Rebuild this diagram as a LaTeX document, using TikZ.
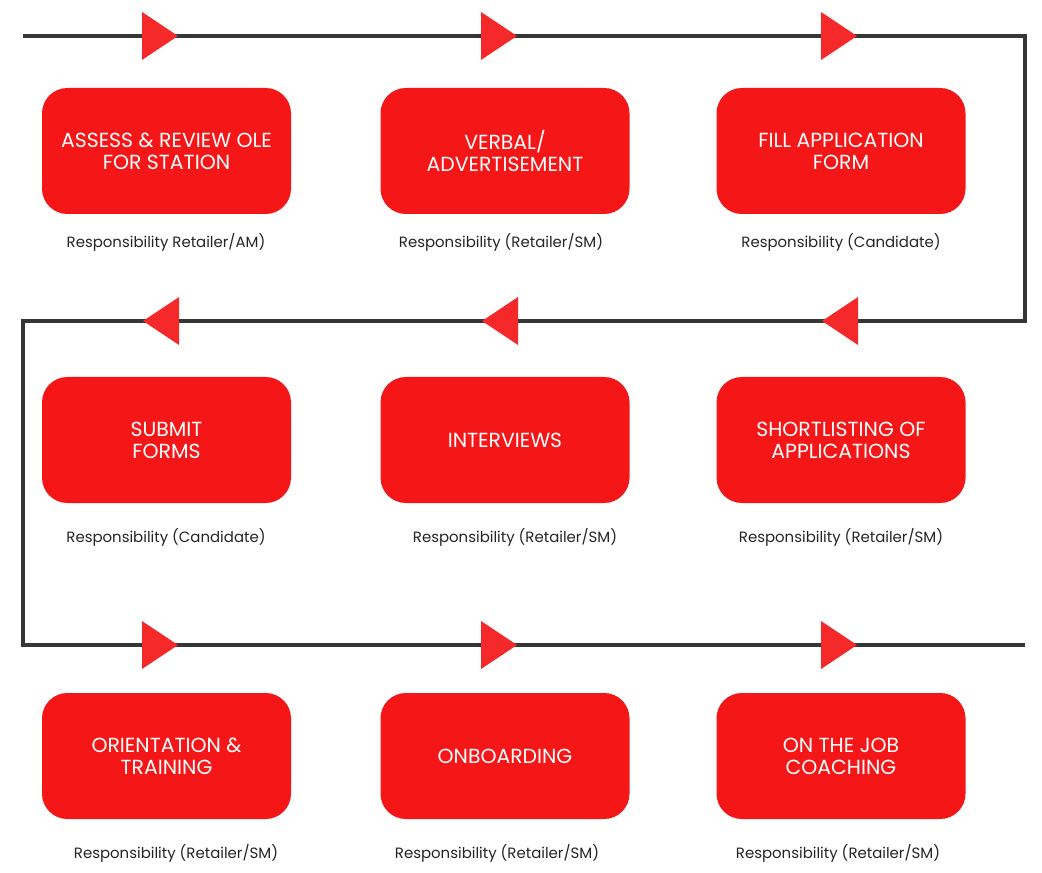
\documentclass[tikz,border=0pt]{standalone}
\usepackage{fontspec}
\setmainfont{Poppins}
\usepackage{tikz}
\usetikzlibrary{positioning, calc}

\definecolor{boxred}{HTML}{F51618}
\definecolor{trired}{HTML}{F5282A}
\definecolor{linegray}{HTML}{363636}
\definecolor{labelgray}{HTML}{242424}

\tikzset{
  stepbox/.style={fill=boxred, rounded corners=19pt, minimum width=186.75pt, minimum height=94.5pt,
    text=white, align=center, font=\fontsize{15.3}{16.5}\selectfont},
  resp/.style={text=labelgray, font=\fontsize{11.2}{13}\selectfont},
  flow/.style={linegray, line width=2.5pt},
  tri/.style={fill=trired}
}

\begin{document}
\begin{tikzpicture}[x=0.75pt, y=-0.75pt]
\useasboundingbox (0,0) rectangle (1042,873);

% the snake line
\coordinate (S1) at (23,36);
\coordinate (E1) at (1025,36);
\coordinate (E2) at (1025,321);
\coordinate (S2) at (23,321);
\coordinate (S3) at (23,645);
\coordinate (E3) at (1025,645);
\draw[flow] (S1) -- (E1) -- (E2) -- (S2) -- (S3) -- (E3);

% arrow heads
\foreach \x in {142,481,821} {
  \fill[tri] (\x,12) -- ++(36,24) -- ++(-36,24) -- cycle;
  \fill[tri] (\x+37,297) -- ++(-36,24) -- ++(36,24) -- cycle;
  \fill[tri] (\x,621) -- ++(36,24) -- ++(-36,24) -- cycle;
}

% steps
\node[stepbox] (A) at (166.5,151) {ASSESS \& REVIEW OLE\\FOR STATION};
\node[stepbox] (B) at (505,151) {VERBAL/\\ADVERTISEMENT};
\node[stepbox] (C) at (841,151) {FILL APPLICATION\\FORM};
\node[stepbox] (D) at (841,440) {SHORTLISTING OF\\APPLICATIONS};
\node[stepbox] (E) at (505,440) {INTERVIEWS};
\node[stepbox] (F) at (166.5,440) {SUBMIT\\FORMS};
\node[stepbox] (G) at (166.5,756) {ORIENTATION \&\\TRAINING};
\node[stepbox] (H) at (505,756) {ONBOARDING};
\node[stepbox] (I) at (841,756) {ON THE JOB\\COACHING};

% responsibilities
\node[resp] (rA) at (166,242) {Responsibility Retailer/AM)};
\node[resp] (rB) at (501,242) {Responsibility (Retailer/SM)};
\node[resp] (rC) at (841,242) {Responsibility (Candidate)};
\node[resp] (rD) at (841,537) {Responsibility (Retailer/SM)};
\node[resp] (rE) at (515,537) {Responsibility (Retailer/SM)};
\node[resp] (rF) at (166,537) {Responsibility (Candidate)};
\node[resp] (rG) at (176,853) {Responsibility (Retailer/SM)};
\node[resp] (rH) at (497,853) {Responsibility (Retailer/SM)};
\node[resp] (rI) at (838,853) {Responsibility (Retailer/SM)};
\end{tikzpicture}
\end{document}
